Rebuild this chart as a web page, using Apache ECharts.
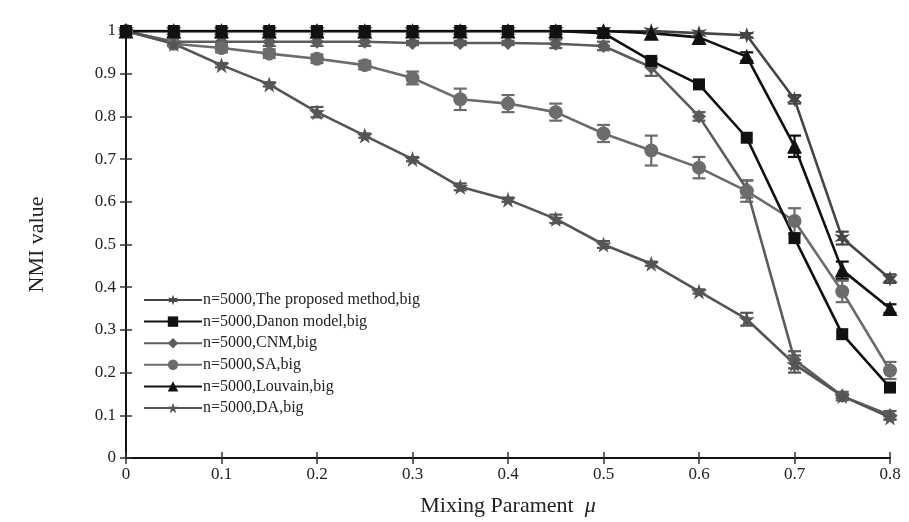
<!DOCTYPE html>
<html>
<head>
<meta charset="utf-8">
<script src="https://cdn.jsdelivr.net/npm/echarts@6/dist/echarts.min.js"></script>
<style>html,body{margin:0;padding:0;background:#fff}#c{width:909px;height:522px}</style>
</head>
<body>
<div id="c"></div>
<script>
const mu = [0, 0.05, 0.1, 0.15, 0.2, 0.25, 0.3, 0.35, 0.4, 0.45, 0.5, 0.55, 0.6, 0.65, 0.7, 0.75, 0.8];
const seriesNames = ['n=5000,The proposed method,big', 'n=5000,Danon model,big', 'n=5000,CNM,big', 'n=5000,SA,big', 'n=5000,Louvain,big', 'n=5000,DA,big'];
const proposed = [1, 1, 1, 1, 1, 1, 1, 1, 1, 1, 1, 1, 0.995, 0.99, 0.84, 0.515, 0.42];
const danon    = [1, 1, 1, 1, 1, 1, 1, 1, 1, 1, 0.995, 0.93, 0.875, 0.75, 0.515, 0.29, 0.165];
const cnm      = [1, 0.975, 0.975, 0.975, 0.975, 0.975, 0.972, 0.972, 0.972, 0.97, 0.965, 0.915, 0.80, 0.63, 0.23, 0.145, 0.10];
const sa       = [1, 0.97, 0.96, 0.947, 0.935, 0.92, 0.89, 0.84, 0.83, 0.81, 0.76, 0.72, 0.68, 0.625, 0.555, 0.39, 0.205];
const louvain  = [1, 1, 1, 1, 1, 1, 1, 1, 1, 1, 1, 0.995, 0.985, 0.94, 0.73, 0.44, 0.35];
const da       = [1, 0.97, 0.92, 0.875, 0.81, 0.755, 0.70, 0.635, 0.605, 0.56, 0.5, 0.455, 0.39, 0.325, 0.22, 0.145, 0.095];
// error bar half-widths
const proposedErr = [0, 0, 0, 0, 0, 0, 0, 0, 0, 0, 0, 0, 0, 0.005, 0.01, 0.015, 0.01];
const cnmErr      = [0, 0.01, 0.01, 0.01, 0.01, 0.01, 0.005, 0.005, 0.005, 0.01, 0.01, 0.02, 0.01, 0.02, 0.02, 0.01, 0.01];
const saErr       = [0, 0.005, 0.01, 0.01, 0.01, 0.01, 0.015, 0.025, 0.02, 0.02, 0.02, 0.035, 0.025, 0.025, 0.03, 0.025, 0.02];
const louvainErr  = [0, 0, 0, 0, 0, 0, 0, 0, 0, 0, 0, 0, 0, 0.01, 0.025, 0.02, 0.01];
const daErr       = [0, 0.005, 0.005, 0.005, 0.012, 0.005, 0.005, 0.008, 0.005, 0.01, 0.008, 0.005, 0.005, 0.015, 0.02, 0.005, 0.005];
const xTicks = [0, 0.1, 0.2, 0.3, 0.4, 0.5, 0.6, 0.7, 0.8];
const yTicks = [0, 0.1, 0.2, 0.3, 0.4, 0.5, 0.6, 0.7, 0.8, 0.9, 1];

const FONT = 'Liberation Serif';
const asterisk = 'path://M0,-10L2,-3.46L8.66,-5L4,0L8.66,5L2,3.46L0,10L-2,3.46L-8.66,5L-4,0L-8.66,-5L-2,-3.46Z';
const star = 'path://M0,-10L2.35,-3.24L9.51,-3.09L3.80,1.24L5.88,8.09L0,4L-5.88,8.09L-3.80,1.24L-9.51,-3.09L-2.35,-3.24Z';

const defs = [
  {name: seriesNames[2], vals: cnm, err: cnmErr, color: '#5c5c5c', symbol: 'diamond', size: 14},
  {name: seriesNames[3], vals: sa, err: saErr, color: '#6c6c6c', symbol: 'circle', size: 14},
  {name: seriesNames[5], vals: da, err: daErr, color: '#555555', symbol: star, size: 16},
  {name: seriesNames[0], vals: proposed, err: proposedErr, color: '#454545', symbol: asterisk, size: 16},
  {name: seriesNames[1], vals: danon, err: null, color: '#111111', symbol: 'rect', size: 12},
  {name: seriesNames[4], vals: louvain, err: louvainErr, color: '#111111', symbol: 'triangle', size: 15}
];

const series = [];
defs.forEach(d => {
  series.push({
    name: d.name, type: 'line', data: mu.map((x, i) => [x, d.vals[i]]),
    symbol: d.symbol, symbolSize: d.size, showAllSymbol: true,
    lineStyle: {color: d.color, width: 2.6}, itemStyle: {color: d.color},
    emphasis: {disabled: true}, z: 3
  });
  if (d.err) {
    series.push({
      type: 'custom', name: d.name + '_err', silent: true, z: 2,
      data: mu.map((x, i) => [x, d.vals[i] - d.err[i], d.vals[i] + d.err[i]]).filter((r, i) => d.err[i] > 0),
      renderItem: function (params, api) {
        const x = api.value(0);
        const lo = api.coord([x, api.value(1)]);
        const hi = api.coord([x, api.value(2)]);
        const cw = 6.5;
        const st = {stroke: d.color, lineWidth: 2.2};
        return {type: 'group', children: [
          {type: 'line', shape: {x1: lo[0], y1: lo[1], x2: hi[0], y2: hi[1]}, style: st},
          {type: 'line', shape: {x1: lo[0] - cw, y1: lo[1], x2: lo[0] + cw, y2: lo[1]}, style: st},
          {type: 'line', shape: {x1: hi[0] - cw, y1: hi[1], x2: hi[0] + cw, y2: hi[1]}, style: st}
        ]};
      }
    });
  }
});

const chart = echarts.init(document.getElementById('c'), null, {renderer: 'canvas'});
const axisLine = {show: true, lineStyle: {color: '#111', width: 2}};
chart.setOption({
  backgroundColor: '#fff',
  animation: false,
  textStyle: {fontFamily: FONT},
  grid: {left: 126, right: 19, top: 31, bottom: 60, containLabel: false},
  legend: {
    data: seriesNames, orient: 'vertical', left: 138, top: 287,
    itemWidth: 58, itemHeight: 13, itemGap: 5.6,
    textStyle: {fontFamily: FONT, fontSize: 16, color: '#222', padding: [0, 0, 0, -4]},
    selectedMode: false
  },
  xAxis: [{
    type: 'value', min: 0, max: 0.8, interval: 0.1,
    axisLine: axisLine, splitLine: {show: false},
    axisTick: {show: true, inside: true, length: 6, lineStyle: {color: '#333', width: 1.5}},
    axisLabel: {fontFamily: FONT, fontSize: 17, color: '#222', margin: 8,
      formatter: v => { const t = xTicks.find(k => Math.abs(k - v) < 1e-6); return t === undefined ? '' : String(t); }},
    name: 'Mixing Parament  {i|μ}', nameLocation: 'middle', nameGap: 37,
    nameTextStyle: {fontFamily: FONT, fontSize: 22, color: '#222', rich: {i: {fontFamily: FONT, fontStyle: 'italic', fontSize: 22, color: '#222'}}}
  }, {
    type: 'value', position: 'top', min: 0, max: 0.8, interval: 0.1,
    axisLine: axisLine, splitLine: {show: false}, axisLabel: {show: false},
    axisTick: {show: true, inside: true, length: 6, lineStyle: {color: '#333', width: 1.5}}
  }],
  yAxis: [{
    type: 'value', min: 0, max: 1, interval: 0.1,
    axisLine: axisLine, splitLine: {show: false},
    axisTick: {show: true, inside: true, length: 6, lineStyle: {color: '#333', width: 1.5}},
    axisLabel: {fontFamily: FONT, fontSize: 17, color: '#222', margin: 10,
      formatter: v => { const t = yTicks.find(k => Math.abs(k - v) < 1e-6); return t === undefined ? '' : String(t); }},
    name: 'NMI value', nameLocation: 'middle', nameGap: 78, nameRotate: 90,
    nameTextStyle: {fontFamily: FONT, fontSize: 22, color: '#222'}
  }, {
    type: 'value', position: 'right', min: 0, max: 1, interval: 0.1,
    axisLine: axisLine, splitLine: {show: false}, axisLabel: {show: false},
    axisTick: {show: true, inside: true, length: 6, lineStyle: {color: '#333', width: 1.5}}
  }],
  series: series
});
</script>
</body>
</html>
